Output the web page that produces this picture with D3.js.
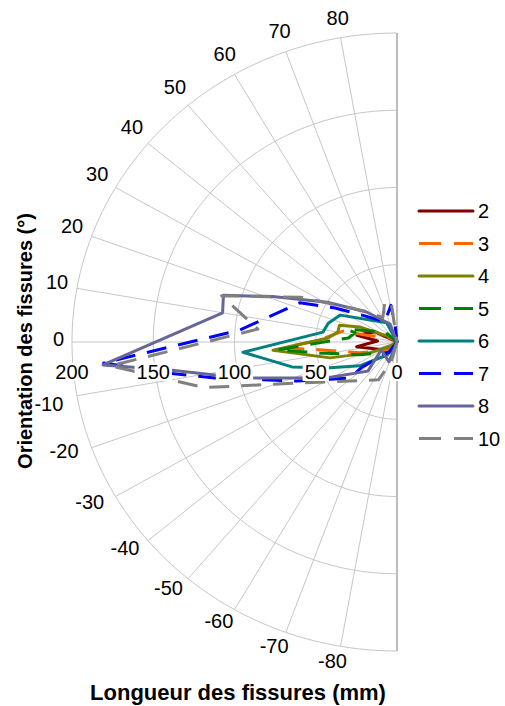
<!DOCTYPE html>
<html><head><meta charset="utf-8">
<script src="https://cdn.jsdelivr.net/npm/d3@7"></script>
<style>
body{margin:0;background:#fff}
svg{display:block}
text{font-family:"Liberation Sans",Arial,Helvetica,sans-serif;fill:#000}
</style>
</head><body>
<svg id="chart" width="505" height="706"></svg>
<script>
// ---- data ----
const seriesNames = ["2","3","4","5","6","7","8","10"];
const seriesColors = ["#800000","#FF6600","#808000","#008000","#008080","#0000FF","#666699","#808080"];
const seriesDashed = [false,true,false,true,false,true,false,true];

// orientation (deg) and length (mm) of each series vertex
const ang2  = [-90,-35,-7,3,10,26,90];
const len2  = [0,9,25,12,25,15,0];
const ang3  = [-90,-43,-17,-6,-3,1,12,13,31,90];
const len3  = [0,7.6,24,48,70,49,34,20,5,0];
const ang4  = [-90,-31,-23,-14,-4,3.5,10,17,23,46,90];
const len4  = [0,5,18,42.5,76.5,42.5,37,37,25,3.6,0];
const ang5  = [-90,-64,-20,-8.5,-4,5,13,15,41,90];
const len5  = [0,7.2,24.3,48,74,30,26.5,32,10,0];
const ang6  = [-90,-54,-34,-22,-14,-4,8,16,26.5,63,90];
const len6  = [0,10.4,27.6,44.5,66.6,95,46,44,39,14,0];
const ang7  = [-90,-53,-37,-39,-22.5,-12,-8,-4.3,4.6,23,30,40.5,60,81,84,90];
const len7  = [0,8,27,37,66,113,144,181,97,65,44,26,15,24,11,0];
const ang8  = [-90,-69,-28,-46.5,-29.6,-21,-14.7,-11,-7.4,-4.7,10,15.8,21,31,46,70,90];
const len8  = [0,13.8,11,26,46,65,92,113,141,181.5,109,111,82,50,27,12.4,0];
const ang10 = [-90,-74,-65,-24,-14,-5,5.6,15.5,26,45.6,61,73,82,90];
const len10 = [0,13.4,27,65,122,177,86,112,66,28,18,26,27,0];

const seriesAngles  = [ang2,ang3,ang4,ang5,ang6,ang7,ang8,ang10];
const seriesLengths = [len2,len3,len4,len5,len6,len7,len8,len10];

const angleTicks  = d3.range(-80, 81, 10);
const radiusTicks = [200,150,100,50,0];
const gridRadii   = [50,100,150,200];

// ---- layout ----
const svg = d3.select("#chart");
const cx = 397, cy = 342;
const xs = d3.scaleLinear().domain([0,200]).range([0,325]);
const ys = d3.scaleLinear().domain([0,200]).range([0,309]);
const rad = d => d*Math.PI/180;
const px = (a,r) => cx - xs(r)*Math.cos(rad(a));
const py = (a,r) => cy - ys(r)*Math.sin(rad(a));

const grid = svg.append("g");
const gridColor = "#c6c6c6";
const arcLine = d3.line().x(d=>px(d[0],d[1])).y(d=>py(d[0],d[1]));
gridRadii.forEach(r=>{
  grid.append("path")
    .attr("d", arcLine(d3.range(-90,90.5,1).map(a=>[a,r])))
    .attr("fill","none").attr("stroke",gridColor).attr("stroke-width",1);
});
angleTicks.forEach(a=>{
  grid.append("line")
    .attr("x1",px(a,0)).attr("y1",py(a,0))
    .attr("x2",px(a,200)).attr("y2",py(a,200))
    .attr("stroke",gridColor).attr("stroke-width",1);
});
grid.append("line")
  .attr("x1",px(90,200)).attr("y1",py(90,200))
  .attr("x2",px(-90,200)).attr("y2",py(-90,200))
  .attr("stroke","#bdbdbd").attr("stroke-width",2);

// series
const lineGen = d3.line().x(d=>px(d[0],d[1])).y(d=>py(d[0],d[1]));
const plot = svg.append("g");
seriesNames.forEach((n,i)=>{
  const pts = seriesAngles[i].map((a,j)=>[a, seriesLengths[i][j]]);
  plot.append("path")
    .attr("d", lineGen(pts))
    .attr("fill","none")
    .attr("stroke",seriesColors[i])
    .attr("stroke-width",3)
    .attr("stroke-linejoin","round")
    .attr("stroke-linecap", seriesDashed[i] ? "butt" : "round")
    .attr("stroke-dasharray", seriesDashed[i] ? "20,12" : null);
});

// radial value labels (with white backing)
const rl = svg.append("g");
const radialBoxes = [];
radiusTicks.forEach(r=>{
  const g = rl.append("g");
  const t = g.append("text")
    .attr("x", px(0,r)).attr("y", cy+30)
    .attr("text-anchor","middle").attr("dominant-baseline","central")
    .attr("font-size",20).text(r);
  const bb = t.node().getBBox();
  radialBoxes.push(bb);
  g.insert("rect","text")
    .attr("x",bb.x-2).attr("y",bb.y+2).attr("width",bb.width+4).attr("height",bb.height-4)
    .attr("fill","#fff");
});

// angle labels
const al = svg.append("g");
angleTicks.forEach(a=>{
  const t = al.append("text")
    .attr("text-anchor","middle").attr("dominant-baseline","central")
    .attr("font-size",20).text(a);
  const w = t.node().getComputedTextLength(), h = 14, gap = 8, pad = 10;
  const ux = -Math.cos(rad(a)), uy = -Math.sin(rad(a));
  const d = gap + Math.abs(ux)*w/2 + Math.abs(uy)*h/2;
  const ox = a < 0 ? -5 : 0;
  const oy = a < 0 ? -8*Math.sin(rad(2*Math.abs(a))) : -3;
  let x = px(a,200) + ux*d + ox, y = py(a,200) + uy*d + oy;
  // keep clear of the radial value labels
  radialBoxes.forEach(b=>{
    const l = x - w/2, rgt = x + w/2, top = y - h/2, bot = y + h/2;
    if (rgt > b.x && l < b.x + b.width && bot > b.y - pad && top < b.y + b.height + pad) {
      if (a < 0) y = b.y + b.height + h/2 + 14; else y = b.y - h/2 - 14;
    }
  });
  t.attr("x", x).attr("y", y);
});

// axis titles
svg.append("text")
  .attr("x",238).attr("y",700)
  .attr("text-anchor","middle").attr("font-size",22).attr("font-weight","bold")
  .text("Longueur des fissures (mm)");
svg.append("text")
  .attr("transform","translate(32,341) rotate(-90)")
  .attr("text-anchor","middle").attr("font-size",20).attr("font-weight","bold")
  .text("Orientation des fissures (°)");

// legend
const lg = svg.append("g");
seriesNames.forEach((n,i)=>{
  const y = 211 + i*32.5;
  lg.append("line")
    .attr("x1",419).attr("x2",473).attr("y1",y).attr("y2",y)
    .attr("stroke",seriesColors[i]).attr("stroke-width",3)
    .attr("stroke-linecap", seriesDashed[i] ? "butt" : "round")
    .attr("stroke-dasharray", seriesDashed[i] ? "22,13" : null);
  lg.append("text")
    .attr("x",478).attr("y",y).attr("dominant-baseline","central")
    .attr("font-size",20).text(n);
});
</script>
</body></html>
